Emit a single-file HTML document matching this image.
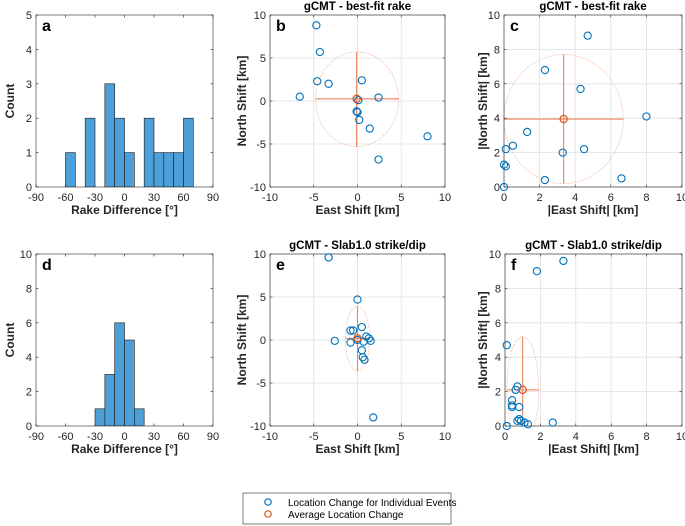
<!DOCTYPE html>
<html><head><meta charset="utf-8"><style>
body{margin:0;background:#fff;}
svg{display:block;font-family:"Liberation Sans",sans-serif;}
</style></head><body>
<svg id="fig" width="685" height="526" viewBox="0 0 685 526" xmlns="http://www.w3.org/2000/svg">
<g>
<rect x="243" y="493" width="208" height="31" fill="#fff" stroke="#262626" stroke-width="0.6"/>
<circle cx="268" cy="502" r="3.2" fill="none" stroke="#0072bd" stroke-width="1.2"/>
<text x="288" y="506" font-size="10" fill="#000">Location Change for Individual Events</text>
<circle cx="268" cy="514" r="3.2" fill="none" stroke="#d95319" stroke-width="1.2"/>
<text x="288" y="518" font-size="10" fill="#000">Average Location Change</text>
</g>
</svg>
<script>
// Histogram data
const histLeftA=[-60,-40,-20,-10,0,20,30,40,50,60];
const histValsA=[1,2,3,2,1,2,1,1,1,2];
const histLeftD=[-30,-20,-10,0,10];
const histValsD=[1,3,6,5,1];
const rakeTicks=[-90,-60,-30,0,30,60,90];
// Scatter data
const bEast=[-4.7,-4.3,-4.6,-3.3,-6.6,0.5,2.4,0.1,-0.1,0,0.2,1.4,8,2.4];
const bNorth=[8.8,5.7,2.3,2,0.5,2.4,0.4,0.1,-1.2,-1.3,-2.2,-3.2,-4.1,-6.8];
const bMean=[-0.1,0.25]; const bErrX=[-4.8,4.7]; const bErrY=[-5.3,5.7];
const cEast=[4.7,2.3,4.3,8,1.3,0.5,0.1,3.3,4.5,0,0.1,2.3,6.6,0];
const cNorth=[8.8,6.8,5.7,4.1,3.2,2.4,2.2,2,2.2,1.3,1.2,0.4,0.5,0];
const cMean=[3.35,3.95]; const cErrX=[0,6.7]; const cErrY=[0.2,7.7];
const eEast=[-3.3,0,0.5,-0.8,-0.5,-2.6,-0.8,1,1.3,0.7,1.5,0.5,0.6,0.8,1.8,0];
const eNorth=[9.6,4.7,1.5,1.1,1.1,-0.1,-0.3,0.4,0.2,-0.2,-0.1,-1.2,-2,-2.3,-9,0];
const eMean=[0,0.2]; const eErrX=[-1.4,1.4]; const eErrY=[-3.6,3.9];
const fEast=[0.1,1.8,3.3,0.7,0.6,0.4,0.4,0.4,0.8,0.7,0.8,0.9,1.1,1.3,2.7,0.1];
const fNorth=[4.7,9,9.6,2.3,2.1,1.5,1.2,1.1,1.1,0.3,0.4,0.3,0.2,0.1,0.2,0];
const fMean=[1,2.1]; const fErrX=[0.1,1.9]; const fErrY=[-1,5.2];
const symTicks=[-10,-5,0,5,10];
const absTicks=[0,2,4,6,8,10];

const NS='http://www.w3.org/2000/svg';
const svg=document.getElementById('fig');
function mk(tag,attrs,parent,name){
  const el=document.createElementNS(NS,tag);
  for(const k in attrs) el.setAttribute(k,attrs[k]);
  
  
  (parent||svg).appendChild(el);return el;
}
function axes(o){
  const g=mk('g',{},svg,o.name);
  const sx=v=>o.x0+(v-o.xmin)/(o.xmax-o.xmin)*(o.x1-o.x0);
  const sy=v=>o.y1-(v-o.ymin)/(o.ymax-o.ymin)*(o.y1-o.y0);
  mk('rect',{x:o.x0,y:o.y0,width:o.x1-o.x0,height:o.y1-o.y0,fill:'#fff'},g,'plot-area');
  if(o.grid){
    o.xt.forEach(t=>mk('line',{x1:sx(t),x2:sx(t),y1:o.y0,y2:o.y1,stroke:'#e0e0e0','stroke-width':0.8},g,'x-grid-line'));
    o.yt.forEach(t=>mk('line',{y1:sy(t),y2:sy(t),x1:o.x0,x2:o.x1,stroke:'#e0e0e0','stroke-width':0.8},g,'y-grid-line'));
  }
  o.xt.forEach(t=>{
    mk('line',{x1:sx(t),x2:sx(t),y1:o.y1,y2:o.y1-2.5,stroke:'#262626','stroke-width':0.6},g,'x-tick');
    mk('line',{x1:sx(t),x2:sx(t),y1:o.y0,y2:o.y0+2.5,stroke:'#262626','stroke-width':0.6},g,'x-tick');
    const tx=mk('text',{x:sx(t),y:o.y1+14,'text-anchor':'middle','font-size':11,fill:'#262626'},g,'x-tick-label');tx.textContent=t;
  });
  o.yt.forEach(t=>{
    mk('line',{y1:sy(t),y2:sy(t),x1:o.x0,x2:o.x0+2.5,stroke:'#262626','stroke-width':0.6},g,'y-tick');
    mk('line',{y1:sy(t),y2:sy(t),x1:o.x1,x2:o.x1-2.5,stroke:'#262626','stroke-width':0.6},g,'y-tick');
    const ty=mk('text',{x:o.x0-4,y:sy(t)+4,'text-anchor':'end','font-size':11,fill:'#262626'},g,'y-tick-label');ty.textContent=t;
  });
  if(o.title){const tt=mk('text',{x:(o.x0+o.x1)/2,y:o.y0-5,'text-anchor':'middle','font-size':11.5,'font-weight':'bold',fill:'#000'},g,'plot-title');tt.textContent=o.title;}
  const xl=mk('text',{x:(o.x0+o.x1)/2,y:o.y1+27,'text-anchor':'middle','font-size':12,'font-weight':'bold',fill:'#262626'},g,'x-axis-title');xl.textContent=o.xlabel;
  const yc=(o.y0+o.y1)/2,yx=o.ylx;
  const yl=mk('text',{x:yx,y:yc,'text-anchor':'middle','font-size':12,'font-weight':'bold',fill:'#262626',transform:`rotate(-90 ${yx} ${yc})`},g,'y-axis-title');yl.textContent=o.ylabel;
  const pl=mk('text',{x:o.x0+6,y:o.y0+16,'font-size':16,'font-weight':'bold',fill:'#000'},g,'panel-label');pl.textContent=o.letter;
  const clipId='clip'+o.letter;
  const cp=mk('clipPath',{id:clipId},g,'clip');
  mk('rect',{x:o.x0,y:o.y0,width:o.x1-o.x0,height:o.y1-o.y0},cp,'clip-rect');
  const data=mk('g',{'clip-path':`url(#${clipId})`},g,'data-layer');
  return {g,sx,sy,data,o};
}
function frame(a){const o=a.o;mk('rect',{x:o.x0,y:o.y0,width:o.x1-o.x0,height:o.y1-o.y0,fill:'none',stroke:'#262626','stroke-width':0.6},a.g,'axes-box');}
function hist(a,lefts,vals,w){
  lefts.forEach((l,i)=>{
    mk('rect',{x:a.sx(l),y:a.sy(vals[i]),width:a.sx(l+w)-a.sx(l),height:a.sy(0)-a.sy(vals[i]),fill:'#4d9fd8',stroke:'#1a1a1a','stroke-width':0.6},a.data,'histogram-bar');
  });
  frame(a);
}
function scatter(a,xs,ys,mean,ex,ey){
  const cx=a.sx(mean[0]),cy=a.sy(mean[1]);
  const rx=(a.sx(ex[1])-a.sx(ex[0]))/2,ry=(a.sy(ey[0])-a.sy(ey[1]))/2;
  const ecx=(a.sx(ex[0])+a.sx(ex[1]))/2,ecy=(a.sy(ey[0])+a.sy(ey[1]))/2;
  mk('ellipse',{cx:ecx,cy:ecy,rx:rx,ry:ry,fill:'none',stroke:'#f0a080','stroke-width':0.8,'stroke-dasharray':'1 1.5'},a.data,'error-ellipse');
  mk('line',{x1:a.sx(ex[0]),x2:a.sx(ex[1]),y1:cy,y2:cy,stroke:'#e8835a','stroke-width':1.1},a.data,'x-error-bar');
  mk('line',{x1:cx,x2:cx,y1:a.sy(ey[0]),y2:a.sy(ey[1]),stroke:'#e8835a','stroke-width':1.1},a.data,'y-error-bar');
  frame(a);
  xs.forEach((x,i)=>mk('circle',{cx:a.sx(x),cy:a.sy(ys[i]),r:3.6,fill:'none',stroke:'#0072bd','stroke-width':1.1},a.g,'event-point'));
  mk('circle',{cx:cx,cy:cy,r:3.6,fill:'none',stroke:'#d95319','stroke-width':1.2},a.g,'average-point');
}
const A=axes({name:'panel-a',letter:'a',x0:36,x1:213,y0:15,y1:187,xmin:-90,xmax:90,ymin:0,ymax:5,xt:rakeTicks,yt:[0,1,2,3,4,5],xlabel:'Rake Difference [°]',ylabel:'Count',ylx:14});
hist(A,histLeftA,histValsA,10);
const D=axes({name:'panel-d',letter:'d',x0:36,x1:213,y0:254,y1:426,xmin:-90,xmax:90,ymin:0,ymax:10,xt:rakeTicks,yt:[0,2,4,6,8,10],xlabel:'Rake Difference [°]',ylabel:'Count',ylx:14});
hist(D,histLeftD,histValsD,10);
const B=axes({name:'panel-b',letter:'b',grid:true,title:'gCMT - best-fit rake',x0:270,x1:445,y0:15,y1:187,xmin:-10,xmax:10,ymin:-10,ymax:10,xt:symTicks,yt:symTicks,xlabel:'East Shift [km]',ylabel:'North Shift [km]',ylx:246});
scatter(B,bEast,bNorth,bMean,bErrX,bErrY);
const C=axes({name:'panel-c',letter:'c',grid:true,title:'gCMT - best-fit rake',x0:504,x1:682,y0:15,y1:187,xmin:0,xmax:10,ymin:0,ymax:10,xt:absTicks,yt:absTicks,xlabel:'|East Shift| [km]',ylabel:'|North Shift| [km]',ylx:487});
scatter(C,cEast,cNorth,cMean,cErrX,cErrY);
const E=axes({name:'panel-e',letter:'e',grid:true,title:'gCMT - Slab1.0 strike/dip',x0:270,x1:445,y0:254,y1:426,xmin:-10,xmax:10,ymin:-10,ymax:10,xt:symTicks,yt:symTicks,xlabel:'East Shift [km]',ylabel:'North Shift [km]',ylx:246});
scatter(E,eEast,eNorth,eMean,eErrX,eErrY);
const F=axes({name:'panel-f',letter:'f',grid:true,title:'gCMT - Slab1.0 strike/dip',x0:505,x1:682,y0:254,y1:426,xmin:0,xmax:10,ymin:0,ymax:10,xt:absTicks,yt:absTicks,xlabel:'|East Shift| [km]',ylabel:'|North Shift| [km]',ylx:487});
scatter(F,fEast,fNorth,fMean,fErrX,fErrY);
</script>
</body></html>
